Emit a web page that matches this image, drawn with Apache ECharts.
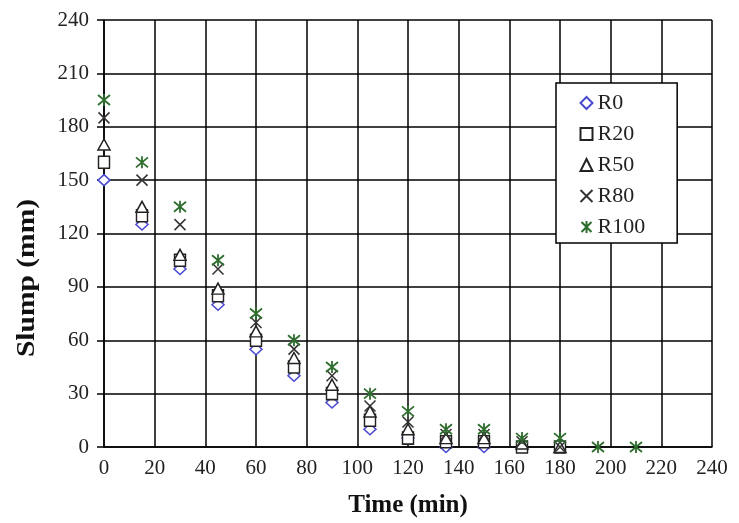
<!DOCTYPE html>
<html>
<head>
<meta charset="utf-8">
<script src="https://cdn.jsdelivr.net/npm/echarts@6/dist/echarts.min.js"></script>
<style>
html,body{margin:0;padding:0;background:#fff;}
#chart{width:739px;height:523px;}
</style>
</head>
<body>
<div id="chart"></div>
<script>
var times = [0, 15, 30, 45, 60, 75, 90, 105, 120, 135, 150, 165, 180, 195, 210];
var R0   = [150, 125, 100, 80, 55, 40, 25, 10, 5, 0, 0];
var R20  = [160, 130, 105, 85, 60, 45, 30, 15, 5, 3, 3, 0, 0];
var R50  = [170, 135, 108, 89, 65, 50, 35, 20, 10, 5, 5, 2, 0];
var R80  = [185, 150, 125, 100, 70, 55, 40, 23, 14, 7, 7, 3, 0];
var R100 = [195, 160, 135, 105, 75, 60, 45, 30, 20, 10, 10, 5, 5, 0, 0];
var xTicks = [0, 20, 40, 60, 80, 100, 120, 140, 160, 180, 200, 220, 240];
var yTicks = [0, 30, 60, 90, 120, 150, 180, 210, 240];

function pairs(vals) {
  return vals.map(function (v, i) { return [times[i], v]; });
}
var serif = "'Liberation Serif','Times New Roman',serif";
var crossPath = 'path://M0,0L10,10M10,0L0,10';
var starPath = 'path://M0,0L10,10M10,0L0,10M5,-1L5,11';

function hollow(name, vals, symbol, size, color, bw) {
  return {
    name: name, type: 'scatter', data: pairs(vals),
    symbol: symbol, symbolSize: size,
    itemStyle: { color: '#fff', borderColor: color, borderWidth: bw, opacity: 1 },
    emphasis: { disabled: true }
  };
}
function stroked(name, vals, symbol, size, color, bw) {
  return {
    name: name, type: 'scatter', data: pairs(vals),
    symbol: symbol, symbolSize: size,
    itemStyle: { color: 'none', borderColor: color, borderWidth: bw, opacity: 1 },
    emphasis: { disabled: true }
  };
}

var chart = echarts.init(document.getElementById('chart'), null, { renderer: 'canvas' });
chart.setOption({
  animation: false,
  backgroundColor: '#fff',
  grid: { left: 104, right: 27, top: 20, bottom: 73 },
  xAxis: {
    type: 'value', min: xTicks[0], max: xTicks[xTicks.length - 1], interval: 20,
    name: 'Time (min)', nameLocation: 'middle', nameGap: 46,
    nameTextStyle: { fontFamily: serif, fontWeight: 'bold', fontSize: 25, color: '#111' },
    axisLine: { show: true, lineStyle: { color: '#000', width: 1.5 } },
    axisTick: { show: false },
    axisLabel: { fontFamily: serif, fontSize: 21, color: '#222', margin: 11 },
    splitLine: { show: true, showMinLine: true, showMaxLine: true, lineStyle: { color: '#000', width: 1.5 } }
  },
  yAxis: {
    type: 'value', min: yTicks[0], max: yTicks[yTicks.length - 1], interval: 30,
    axisLine: { show: true, lineStyle: { color: '#000', width: 1.5 } },
    axisTick: { show: true, length: 7, lineStyle: { color: '#000', width: 1.5 } },
    axisLabel: { fontFamily: serif, fontSize: 21, color: '#222', margin: 15 },
    splitLine: { show: true, showMinLine: true, showMaxLine: true, lineStyle: { color: '#000', width: 1.5 } }
  },
  graphic: [{
    type: 'text', x: 28, y: 278, rotation: Math.PI / 2, scaleX: 1.18,
    style: { text: 'Slump (mm)', fontFamily: serif, fontWeight: 'bold', fontSize: 25, fill: '#111', align: 'center', verticalAlign: 'middle' }
  }],
  legend: {
    orient: 'vertical', left: 556, top: 83,
    padding: [9, 32, 5, 22], itemGap: 9, itemWidth: 12, itemHeight: 12,
    backgroundColor: '#fff', borderColor: '#000', borderWidth: 1.5,
    textStyle: { fontFamily: serif, fontSize: 22, color: '#222' },
    data: ['R0', 'R20', 'R50', 'R80', 'R100']
  },
  series: [
    hollow('R0', R0, 'diamond', [12, 11], '#4a4ad0', 1.5),
    hollow('R20', R20, 'rect', [11, 12], '#222', 1.5),
    hollow('R50', R50, 'triangle', [12, 11], '#222', 1.5),
    stroked('R80', R80, crossPath, 11, '#333', 1.5),
    stroked('R100', R100, starPath, 12, '#2e6e2e', 1.8)
  ]
});
</script>
</body>
</html>
